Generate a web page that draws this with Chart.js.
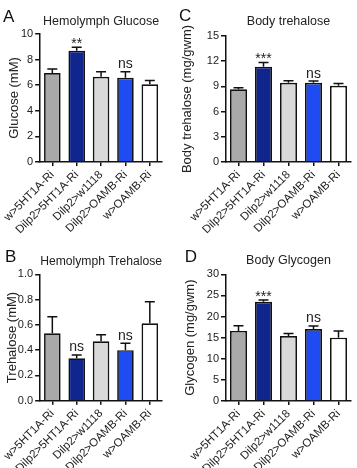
<!DOCTYPE html>
<html>
<head>
<meta charset="utf-8">
<script src="https://cdn.jsdelivr.net/npm/chart.js@4.4.1/dist/chart.umd.min.js"></script>
<style>
  body { margin: 0; background: #fff; }
  canvas { position: absolute; }
</style>
</head>
<body>
<canvas id="chartA" width="178" height="234" style="left:0;top:0"></canvas>
<canvas id="chartC" width="179" height="234" style="left:178px;top:0"></canvas>
<canvas id="chartB" width="178" height="234" style="left:0;top:234px"></canvas>
<canvas id="chartD" width="179" height="234" style="left:178px;top:234px"></canvas>
<script>
// genotypes on the x axis (same for every panel)
const groups = ['w>5HT1A-Ri', 'Dilp2>5HT1A-Ri', 'Dilp2>w1118', 'Dilp2>OAMB-Ri', 'w>OAMB-Ri'];
const barColors = ['#a9a9a9', '#10268c', '#d9d9d9', '#1f4cf2', '#ffffff'];

// A - hemolymph glucose (mM)
const glucose = [6.95, 8.7, 6.66, 6.59, 6.07];
const glucoseErr = [0.32, 0.26, 0.39, 0.46, 0.3];
const glucoseSig = ['', '**', '', 'ns', ''];

// B - hemolymph trehalose (mM)
const hemoTrehalose = [0.533, 0.335, 0.47, 0.4, 0.612];
const hemoTrehaloseErr = [0.132, 0.027, 0.052, 0.054, 0.171];
const hemoTrehaloseSig = ['', 'ns', '', 'ns', ''];

// C - body trehalose (mg/gwm)
const bodyTrehalose = [8.65, 11.35, 9.44, 9.44, 9.08];
const bodyTrehaloseErr = [0.2, 0.5, 0.24, 0.2, 0.28];
const bodyTrehaloseSig = ['', '***', '', 'ns', ''];

// D - body glycogen (mg/gwm)
const glycogen = [16.6, 23.5, 15.4, 17.06, 15.0];
const glycogenErr = [1.2, 0.4, 0.6, 0.7, 1.6];
const glycogenSig = ['', '***', '', 'ns', ''];

Chart.defaults.font.family = '"Liberation Sans", Arial, Helvetica, sans-serif';
Chart.defaults.color = '#222';

// draws the SEM bars (upper half only) and the significance marks
const errorBars = {
  id: 'errorBars',
  afterDatasetsDraw(chart) {
    const ds = chart.data.datasets[0];
    const meta = chart.getDatasetMeta(0);
    const yScale = chart.scales.y;
    const ctx = chart.ctx;
    ctx.save();
    ctx.strokeStyle = '#111';
    ctx.lineWidth = 1.5;
    ctx.fillStyle = '#222';
    ctx.font = '14px "Liberation Sans", Arial, sans-serif';
    ctx.textAlign = 'center';
    ctx.textBaseline = 'alphabetic';
    meta.data.forEach((bar, i) => {
      let top = yScale.getPixelForValue(ds.data[i] + ds.errors[i]);
      ctx.beginPath();
      ctx.moveTo(bar.x, bar.y);
      ctx.lineTo(bar.x, top);
      ctx.moveTo(bar.x - 5, top);
      ctx.lineTo(bar.x + 5, top);
      ctx.stroke();
      if (ds.sig[i]) {
        ctx.fillText(ds.sig[i], bar.x, ds.sig[i] == 'ns' ? top - 3.5 : top + 1);
      }
    });
    ctx.restore();
  }
};

// panel letter in the corner
const panelLetter = {
  id: 'panelLetter',
  afterDraw(chart, args, opts) {
    const ctx = chart.ctx;
    ctx.save();
    ctx.fillStyle = '#111';
    ctx.font = '17px "Liberation Sans", Arial, sans-serif';
    ctx.textAlign = 'left';
    ctx.textBaseline = 'alphabetic';
    ctx.fillText(opts.text, opts.x, opts.y);
    ctx.restore();
  }
};

function makeChart(id, p) {
  return new Chart(document.getElementById(id), {
    type: 'bar',
    data: {
      labels: groups,
      datasets: [{
        data: p.values,
        errors: p.errors,
        sig: p.sig,
        backgroundColor: barColors,
        borderColor: '#111',
        borderWidth: 1.7,
        categoryPercentage: 1,
        barPercentage: 0.68
      }]
    },
    options: {
      responsive: false,
      animation: false,
      layout: { padding: { left: 0, right: p.right, top: 0, bottom: 0 } },
      plugins: {
        legend: { display: false },
        tooltip: { enabled: false },
        title: {
          display: true,
          text: p.title,
          fullSize: false,
          color: '#222',
          font: { size: 12.5, weight: 'normal', lineHeight: 1.2 },
          padding: { top: p.titleTop, bottom: p.titleBottom }
        },
        panelLetter: { text: p.letter, x: p.lx, y: p.ly }
      },
      scales: {
        x: {
          grid: { offset: false, drawOnChartArea: false, tickLength: 4, color: '#111', lineWidth: 1.5 },
          border: { color: '#111', width: 1.5 },
          ticks: { minRotation: 45, maxRotation: 45, autoSkip: false, padding: 2, font: { size: 11.5 } },
          afterFit: (s) => { s.height = p.xh; }
        },
        y: {
          min: 0,
          max: p.max,
          grid: { drawOnChartArea: false, tickLength: 5, color: '#111', lineWidth: 1.5 },
          border: { color: '#111', width: 1.5 },
          ticks: {
            stepSize: p.step,
            padding: 2,
            font: { size: 11 },
            callback: (v) => v.toFixed(p.dec)
          },
          title: {
            display: true,
            text: p.ytitle,
            font: { size: 13, lineHeight: 1 },
            padding: { top: p.ytp, bottom: 0 }
          },
          afterFit: (s) => { s.width = p.left; }
        }
      }
    },
    plugins: [errorBars, panelLetter]
  });
}

makeChart('chartA', {
  values: glucose, errors: glucoseErr, sig: glucoseSig,
  title: 'Hemolymph Glucose', ytitle: 'Glucose (mM)', max: 10, step: 2, dec: 0,
  left: 35, right: 16, xh: 72, titleTop: 14.2, titleBottom: 4.8, ytp: 2.5,
  letter: 'A', lx: 3, ly: 22
});
makeChart('chartC', {
  values: bodyTrehalose, errors: bodyTrehaloseErr, sig: bodyTrehaloseSig,
  title: 'Body trehalose', ytitle: 'Body trehalose (mg/gwm)', max: 15, step: 3, dec: 0,
  left: 48, right: 6, xh: 72, titleTop: 14.2, titleBottom: 6.8, ytp: 3,
  letter: 'C', lx: 1, ly: 20.5
});
makeChart('chartB', {
  values: hemoTrehalose, errors: hemoTrehaloseErr, sig: hemoTrehaloseSig,
  title: 'Hemolymph Trehalose', ytitle: 'Trehalose (mM)', max: 1, step: 0.2, dec: 1,
  left: 35, right: 16, xh: 67.3, titleTop: 20.2, titleBottom: 5.1, ytp: 0.5,
  letter: 'B', lx: 5, ly: 27.7
});
makeChart('chartD', {
  values: glycogen, errors: glycogenErr, sig: glycogenSig,
  title: 'Body Glycogen', ytitle: 'Glycogen (mg/gwm)', max: 30, step: 5, dec: 0,
  left: 48, right: 6, xh: 67, titleTop: 19.2, titleBottom: 6.1, ytp: 6,
  letter: 'D', lx: 6.7, ly: 27.7
});
</script>
</body>
</html>
